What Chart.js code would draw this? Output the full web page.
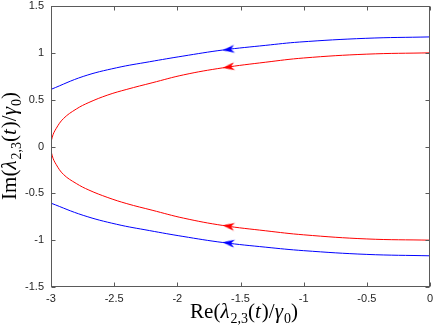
<!DOCTYPE html>
<html>
<head>
<meta charset="utf-8">
<script src="https://cdn.jsdelivr.net/npm/chart.js@4.4.1/dist/chart.umd.min.js"></script>
<style>
  html, body { margin: 0; padding: 0; background: #fff; }
  #wrap { width: 436px; height: 327px; position: relative; }
</style>
</head>
<body>
<div id="wrap"><canvas id="eigChart"></canvas></div>
<script>
// curve values (x = Re, y = Im)
var redUpperX = [0, -0.5, -1.0, -1.3, -1.64, -1.95, -2.2, -2.4, -2.55, -2.7, -2.8, -2.9, -2.96, -2.99, -3];
var redUpperY = [1.0, 0.986, 0.945, 0.90, 0.84, 0.765, 0.68, 0.61, 0.55, 0.47, 0.40, 0.30, 0.19, 0.10, 0];
var redLowerX = [-2.99, -2.96, -2.9, -2.8, -2.7, -2.55, -2.4, -2.2, -1.95, -1.64, -1.3, -1.0, -0.5, 0];
var redLowerY = [-0.10, -0.19, -0.30, -0.395, -0.465, -0.545, -0.61, -0.68, -0.765, -0.843, -0.90, -0.943, -0.987, -1.0];
var blueUpperX = [0, -0.508, -1.035, -1.3, -1.64, -1.956, -2.219, -2.482, -2.745, -3];
var blueUpperY = [1.17, 1.155, 1.115, 1.08, 1.03, 0.965, 0.905, 0.84, 0.748, 0.61];
var blueLowerX = [0, -0.5, -1.0, -1.3, -1.64, -1.956, -2.219, -2.482, -2.745, -3];
var blueLowerY = [-1.167, -1.152, -1.112, -1.075, -1.025, -0.96, -0.898, -0.83, -0.735, -0.605];

// arrow heads (direction of motion, pointing left)
var arrowX = [-1.595, -1.595, -1.595, -1.595];
var arrowY = [0.848, 1.035, -0.85, -1.03];
var arrowColor = ['#ff0000', '#0000ff', '#ff0000', '#0000ff'];
var arrowTilt = [-8, -7, 8, 7];

var xTicks = [-3, -2.5, -2, -1.5, -1, -0.5, 0];
var yTicks = [-1.5, -1, -0.5, 0, 0.5, 1, 1.5];

var xLabelParts = [['Re(', 'n'], ['\u03bb', 'i'], ['2,3', 's'], ['(', 'n'], ['t', 'i'], [')/', 'n'], ['\u03b3', 'i'], ['0', 's'], [')', 'n']];
var yLabelParts = [['Im(', 'n'], ['\u03bb', 'i'], ['2,3', 's'], ['(', 'n'], ['t', 'i'], [')/', 'n'], ['\u03b3', 'i'], ['0', 's'], [')', 'n']];

var toPoints = function(xs, ys) {
    var pts = [];
    for (var i = 0; i < xs.length; i++) {
        pts.push({x: xs[i], y: ys[i]});
    }
    return pts;
};

// small notched arrow head as a canvas, tip on the left
var makeArrow = function(color) {
    var c = document.createElement('canvas');
    c.width = 13;
    c.height = 9;
    var g = c.getContext('2d');
    g.fillStyle = color;
    g.beginPath();
    g.moveTo(0.5, 4.5);
    g.lineTo(12.5, 0.5);
    g.lineTo(9, 4.5);
    g.lineTo(12.5, 8.5);
    g.closePath();
    g.fill();
    return c;
};

var FONT_FAMILY = '"Liberation Serif", "DejaVu Serif", serif';
var MAIN_SIZE = 21;
var SUB_SIZE = 14;

var partFont = function(kind) {
    if (kind === 's') return SUB_SIZE + 'px ' + FONT_FAMILY;
    if (kind === 'i') return 'italic ' + MAIN_SIZE + 'px ' + FONT_FAMILY;
    return MAIN_SIZE + 'px ' + FONT_FAMILY;
};

// draws a label with subscripts centred on (cx, baseline)
var drawMathLabel = function(ctx, parts, cx, baseY, angle) {
    ctx.save();
    ctx.translate(cx, baseY);
    ctx.rotate(angle);
    var total = 0;
    var widths = [];
    parts.forEach(function(p) {
        ctx.font = partFont(p[1]);
        var w = ctx.measureText(p[0]).width + (p[1] === 'i' ? 1 : 0);
        widths.push(w);
        total += w;
    });
    var x = -total / 2;
    ctx.fillStyle = '#000';
    ctx.textBaseline = 'alphabetic';
    ctx.textAlign = 'left';
    parts.forEach(function(p, i) {
        ctx.font = partFont(p[1]);
        ctx.fillText(p[0], x, p[1] === 's' ? 5 : 0);
        x += widths[i];
    });
    ctx.restore();
};

var boxPlugin = {
    id: 'boxPlugin',
    afterDraw: function(chart) {
        var ctx = chart.ctx;
        var a = chart.chartArea;
        var xs = chart.scales.x;
        var ys = chart.scales.y;
        ctx.save();
        ctx.strokeStyle = '#5a5a5a';
        ctx.lineWidth = 1;
        var l = Math.round(a.left) + 0.5, r = Math.round(a.right) - 0.5;
        var t = Math.round(a.top) + 0.5, b = Math.round(a.bottom) - 0.5;
        ctx.strokeRect(l, t, r - l, b - t);
        ctx.beginPath();
        xTicks.forEach(function(v) {
            var px = Math.round(xs.getPixelForValue(v)) + 0.5;
            ctx.moveTo(px, b); ctx.lineTo(px, b - 4);
            ctx.moveTo(px, t); ctx.lineTo(px, t + 4);
        });
        yTicks.forEach(function(v) {
            var py = Math.round(ys.getPixelForValue(v)) + 0.5;
            ctx.moveTo(l, py); ctx.lineTo(l + 4, py);
            ctx.moveTo(r, py); ctx.lineTo(r - 4, py);
        });
        ctx.stroke();
        ctx.restore();
        drawMathLabel(ctx, xLabelParts, 244, 318, 0);
        drawMathLabel(ctx, yLabelParts, 16, 146, -Math.PI / 2);
    }
};

var lineSet = function(points, color) {
    return {
        data: points,
        showLine: true,
        borderColor: color,
        borderWidth: 1,
        pointRadius: 0,
        tension: 0.4,
        fill: false
    };
};

var datasets = [];
for (var i = 0; i < arrowX.length; i++) {
    datasets.push({
        data: [{x: arrowX[i], y: arrowY[i]}],
        showLine: false,
        pointStyle: makeArrow(arrowColor[i]),
        rotation: arrowTilt[i],
        pointRadius: 6,
        borderWidth: 0
    });
}
// the red branch runs through the turning point at (-3, 0) in one piece
datasets.push(lineSet(toPoints(redUpperX, redUpperY).concat(toPoints(redLowerX, redLowerY)), '#ff0000'));
datasets.push(lineSet(toPoints(blueUpperX, blueUpperY), '#0000ff'));
datasets.push(lineSet(toPoints(blueLowerX, blueLowerY), '#0000ff'));

var tickFont = {family: '"Liberation Sans", Arial, sans-serif', size: 11};

var ctx = document.getElementById('eigChart').getContext('2d');
var myChart = new Chart(ctx, {
    type: 'scatter',
    data: {datasets: datasets},
    options: {
        responsive: true,
        maintainAspectRatio: false,
        devicePixelRatio: 1,
        animation: false,
        events: [],
        layout: {padding: {top: 5, right: 4, left: 0, bottom: 0}},
        plugins: {legend: {display: false}, tooltip: {enabled: false}},
        scales: {
            x: {
                type: 'linear',
                min: -3,
                max: 0,
                grid: {display: false, drawTicks: false},
                border: {display: false},
                afterBuildTicks: function(scale) {
                    scale.ticks = xTicks.map(function(v) { return {value: v}; });
                },
                afterFit: function(scale) {
                    scale.height = 40;
                    scale.paddingLeft = 0;
                    scale.paddingRight = 0;
                },
                ticks: {
                    padding: 5,
                    maxRotation: 0,
                    autoSkip: false,
                    color: '#262626',
                    font: tickFont,
                    callback: function(v) { return String(v); }
                }
            },
            y: {
                type: 'linear',
                min: -1.5,
                max: 1.5,
                grid: {display: false, drawTicks: false},
                border: {display: false},
                afterBuildTicks: function(scale) {
                    scale.ticks = yTicks.map(function(v) { return {value: v}; });
                },
                afterFit: function(scale) {
                    scale.width = 51;
                    scale.paddingTop = 0;
                    scale.paddingBottom = 0;
                },
                ticks: {
                    padding: 7,
                    autoSkip: false,
                    color: '#262626',
                    font: tickFont,
                    callback: function(v) { return String(v); }
                }
            }
        }
    },
    plugins: [boxPlugin]
});
</script>
</body>
</html>
